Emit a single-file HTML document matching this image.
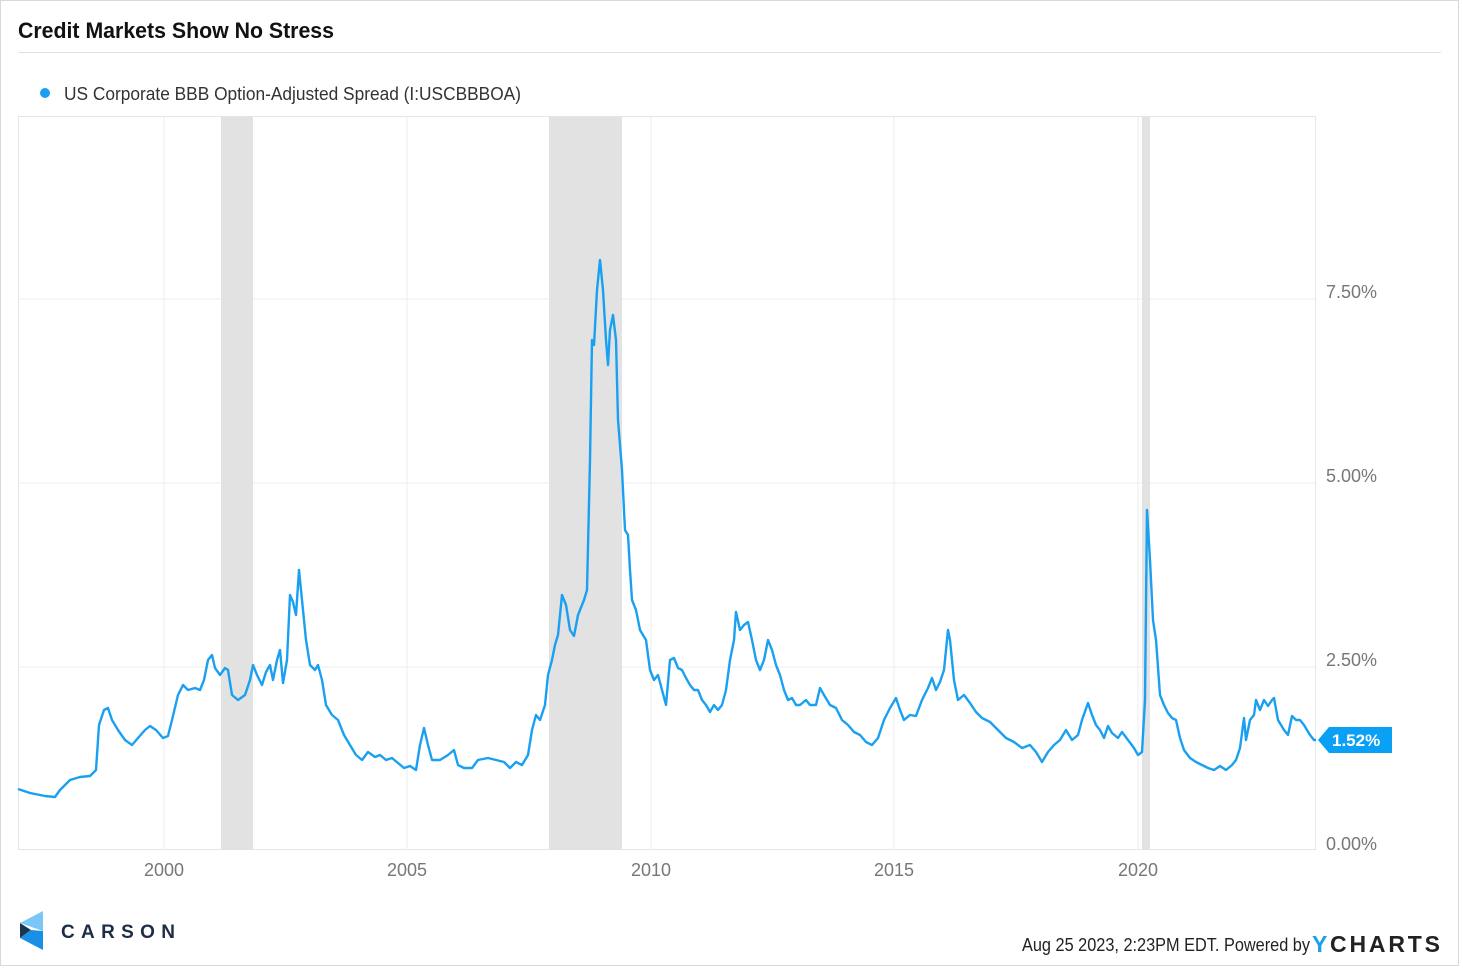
<!DOCTYPE html>
<html><head><meta charset="utf-8"><style>
html,body{margin:0;padding:0;background:#fff;}
body{width:1463px;height:968px;overflow:hidden;font-family:"Liberation Sans",sans-serif;}
</style></head><body>
<svg width="1463" height="968" xmlns="http://www.w3.org/2000/svg" font-family="Liberation Sans, sans-serif">
<rect x="0.5" y="0.5" width="1458" height="965" fill="#fff" stroke="#d8d8d8"/>
<text x="18" y="38" font-size="22" font-weight="bold" fill="#111" textLength="316" lengthAdjust="spacingAndGlyphs">Credit Markets Show No Stress</text>
<line x1="18" y1="52.5" x2="1441" y2="52.5" stroke="#e2e2e2"/>
<circle cx="45" cy="93" r="5" fill="#1aa0f0"/>
<text x="64" y="100" font-size="18" fill="#333" textLength="457" lengthAdjust="spacingAndGlyphs">US Corporate BBB Option-Adjusted Spread (I:USCBBBOA)</text>
<rect x="18.5" y="116.5" width="1297" height="733" fill="none" stroke="#e6e6e6"/>
<g stroke="#ececec">
<line x1="164" y1="117" x2="164" y2="850"/><line x1="407" y1="117" x2="407" y2="850"/>
<line x1="651" y1="117" x2="651" y2="850"/><line x1="894" y1="117" x2="894" y2="850"/>
<line x1="1138" y1="117" x2="1138" y2="850"/>
<line x1="18" y1="299" x2="1316" y2="299"/><line x1="18" y1="483" x2="1316" y2="483"/>
<line x1="18" y1="667" x2="1316" y2="667"/>
</g>
<g fill="#e2e2e2"><rect x="221" y="117" width="32" height="733"/><rect x="549" y="117" width="73" height="733"/><rect x="1142" y="117" width="8" height="733"/></g>
<polyline fill="none" stroke="#1aa0f0" stroke-width="2.4" stroke-linejoin="round" points="18,789 30,793 45,796 55,797 60,790 70,780 80,777 90,776 96,770 99,725 104,710 108,708 112,720 118,730 125,740 132,745 138,738 145,730 150,726 156,730 163,738 168,736 172,720 178,695 183,685 188,690 195,688 200,690 204,680 208,660 212,655 215,668 220,675 225,668 228,670 232,695 238,700 245,695 250,680 253,665 257,675 262,685 266,672 270,665 273,680 277,660 280,650 283,683 287,660 290,595 293,602 296,615 299,570 302,600 306,640 310,665 315,670 318,665 322,680 326,705 332,715 338,720 344,735 350,745 356,755 362,760 368,752 375,757 380,755 386,760 392,758 398,763 404,768 410,766 416,770 420,745 424,728 428,745 432,760 440,760 448,755 454,750 458,765 464,768 472,768 478,760 488,758 496,760 504,762 510,768 516,762 522,765 528,755 532,730 536,715 540,720 545,705 548,675 552,660 555,645 558,635 562,595 566,605 570,630 574,636 578,615 584,600 587,590 590,460 592,340 594,345 597,290 600,260 603,290 606,340 608,365 610,330 613,315 616,340 618,420 622,470 625,530 628,535 630,570 632,600 636,610 640,630 646,640 650,670 654,680 658,675 662,690 666,705 670,660 674,658 678,668 682,670 686,678 690,685 694,690 698,690 702,700 706,705 710,712 714,705 718,710 722,705 726,690 730,660 734,640 736,612 740,630 744,625 748,622 752,640 756,660 760,670 764,660 768,640 772,650 776,665 780,675 784,690 788,700 792,698 796,705 800,705 806,700 810,705 816,705 820,688 824,695 830,705 836,708 842,720 848,725 854,732 860,735 866,742 872,745 878,738 884,720 890,708 896,698 900,710 904,720 910,715 916,716 922,700 928,688 932,678 936,690 940,682 944,670 948,630 950,640 954,680 958,700 964,695 970,703 976,712 982,718 990,722 998,730 1006,738 1014,742 1022,748 1030,745 1036,752 1042,762 1048,752 1054,745 1060,740 1066,730 1072,740 1078,735 1082,720 1088,703 1092,715 1096,725 1100,730 1104,738 1108,726 1112,733 1118,738 1122,732 1128,740 1134,748 1138,755 1142,752 1145,700 1147,510 1150,560 1153,620 1156,640 1160,695 1164,705 1168,713 1172,718 1176,720 1180,738 1184,750 1190,758 1196,762 1202,765 1208,768 1214,770 1220,766 1226,770 1232,765 1236,760 1240,748 1244,718 1246,740 1250,720 1254,715 1256,700 1260,710 1264,700 1268,706 1272,700 1274,698 1278,720 1284,730 1288,735 1292,716 1296,720 1300,720 1304,725 1310,735 1314,740 1316,740"/>
<polygon points="1318,740 1329,727 1392,727 1392,753 1329,753" fill="#0aa0f5"/>
<text x="1332" y="746" font-size="17" font-weight="bold" fill="#fff">1.52%</text>
<g font-size="18" fill="#777">
<text x="1326" y="298">7.50%</text><text x="1326" y="482">5.00%</text>
<text x="1326" y="666">2.50%</text><text x="1326" y="850">0.00%</text>
<g text-anchor="middle"><text x="164" y="876">2000</text><text x="407" y="876">2005</text><text x="651" y="876">2010</text><text x="894" y="876">2015</text><text x="1138" y="876">2020</text></g>
</g>
<polygon points="20,923 43,911 43,931" fill="#7cc6f7"/>
<polygon points="20,923 31,930 20,938" fill="#1b3550"/>
<polygon points="31,930 43,931 43,950 20,938" fill="#1a8fe8"/>
<text x="61" y="938" font-size="19" font-weight="bold" fill="#1e2d45" textLength="114" lengthAdjust="spacing">CARSON</text>
<text x="1022" y="951" font-size="18" fill="#222" textLength="288" lengthAdjust="spacingAndGlyphs">Aug 25 2023, 2:23PM EDT. Powered by</text>
<text x="1312" y="952" font-size="23" font-weight="bold" fill="#1aa0f0">Y</text>
<text x="1330" y="952" font-size="23" font-weight="bold" fill="#222" textLength="110" lengthAdjust="spacing">CHARTS</text>
</svg>
</body></html>
